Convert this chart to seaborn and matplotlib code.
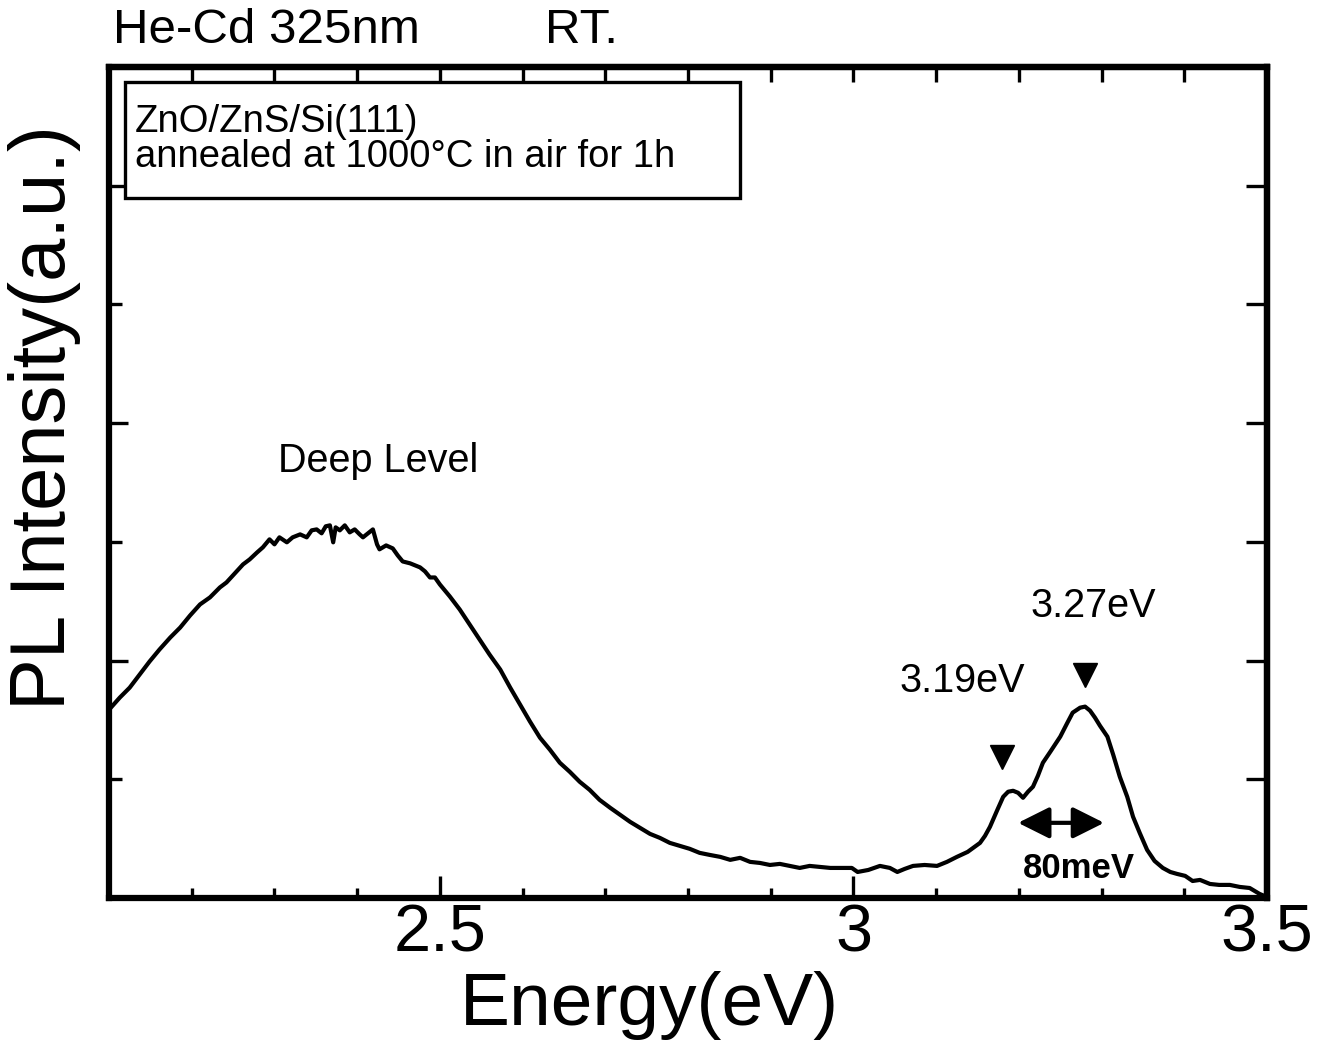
import numpy as np
import pandas as pd
import matplotlib
matplotlib.use("Agg")
import matplotlib.pyplot as plt
from matplotlib.patches import Rectangle
from matplotlib.ticker import FixedLocator, NullFormatter
import seaborn as sns

# ---------------- data ----------------
energy_ev = [
    2.100, 2.113, 2.125, 2.137, 2.149, 2.161, 2.174, 2.186, 2.198, 2.210,
    2.222, 2.234, 2.242, 2.252, 2.262, 2.270, 2.279, 2.286, 2.294, 2.300,
    2.306, 2.315, 2.322, 2.331, 2.339, 2.345, 2.351, 2.357, 2.362, 2.367,
    2.371, 2.374, 2.379, 2.385, 2.391, 2.397, 2.403, 2.407, 2.413, 2.419,
    2.424, 2.427, 2.435, 2.443, 2.449, 2.455, 2.464, 2.476, 2.482, 2.488,
    2.494, 2.500, 2.512, 2.524, 2.536, 2.548, 2.560, 2.573, 2.585, 2.597,
    2.609, 2.621, 2.633, 2.645, 2.657, 2.669, 2.681, 2.693, 2.706, 2.718,
    2.730, 2.742, 2.754, 2.766, 2.778, 2.790, 2.802, 2.814, 2.826, 2.839,
    2.851, 2.863, 2.875, 2.887, 2.899, 2.911, 2.923, 2.935, 2.947, 2.959,
    2.972, 2.984, 2.998, 3.005, 3.018, 3.032, 3.044, 3.053, 3.062, 3.072,
    3.086, 3.101, 3.113, 3.125, 3.138, 3.153, 3.159, 3.165, 3.174, 3.181,
    3.187, 3.193, 3.199, 3.205, 3.211, 3.217, 3.223, 3.229, 3.238, 3.250,
    3.258, 3.265, 3.274, 3.280, 3.286, 3.292, 3.298, 3.307, 3.314, 3.322,
    3.331, 3.338, 3.346, 3.355, 3.364, 3.374, 3.383, 3.391, 3.401, 3.410,
    3.419, 3.431, 3.442, 3.455, 3.467, 3.479, 3.491, 3.500,
]
pl_intensity = [
    1.586, 1.688, 1.772, 1.882, 1.992, 2.093, 2.194, 2.278, 2.380, 2.473,
    2.532, 2.616, 2.658, 2.734, 2.810, 2.852, 2.911, 2.954, 3.021, 2.979,
    3.038, 2.996, 3.038, 3.063, 3.038, 3.097, 3.105, 3.072, 3.131, 3.139,
    2.996, 3.122, 3.097, 3.139, 3.080, 3.105, 3.063, 3.038, 3.072, 3.105,
    2.979, 2.937, 2.970, 2.945, 2.886, 2.835, 2.819, 2.785, 2.751, 2.700,
    2.700, 2.641, 2.540, 2.430, 2.304, 2.177, 2.051, 1.924, 1.772, 1.629,
    1.485, 1.350, 1.249, 1.139, 1.063, 0.979, 0.911, 0.827, 0.759, 0.700,
    0.641, 0.591, 0.540, 0.506, 0.464, 0.439, 0.414, 0.380, 0.363, 0.346,
    0.321, 0.338, 0.304, 0.295, 0.278, 0.287, 0.270, 0.253, 0.270, 0.262,
    0.253, 0.253, 0.253, 0.219, 0.236, 0.270, 0.253, 0.219, 0.245, 0.270,
    0.278, 0.270, 0.304, 0.346, 0.388, 0.464, 0.523, 0.599, 0.743, 0.852,
    0.895, 0.903, 0.886, 0.844, 0.895, 0.937, 1.030, 1.139, 1.232, 1.359,
    1.468, 1.561, 1.603, 1.612, 1.578, 1.519, 1.451, 1.359, 1.207, 1.021,
    0.852, 0.684, 0.549, 0.405, 0.312, 0.253, 0.219, 0.203, 0.186, 0.143,
    0.152, 0.118, 0.110, 0.110, 0.093, 0.084, 0.034, 0.008,
]

peak_marker_ev = [3.18, 3.28]
peak_marker_int = [1.19, 1.88]
peak_labels = ["3.19eV", "3.27eV"]
peak_label_ev = [3.131, 3.290]
peak_label_int = [1.738, 2.363]

split_arrow_ev = [3.199, 3.303]
split_arrow_int = 0.633
split_label = "80meV"
split_label_pos = (3.272, 0.169)

deep_label = "Deep Level"
deep_label_pos = (2.425, 3.586)

x_major = [2.5, 3.0, 3.5]
x_major_labels = ["2.5", "3", "3.5"]
x_minor = [2.2, 2.3, 2.4, 2.6, 2.7, 2.8, 2.9, 3.1, 3.2, 3.3, 3.4]
x_all = [2.2, 2.3, 2.4, 2.5, 2.6, 2.7, 2.8, 2.9, 3.0, 3.1, 3.2, 3.3, 3.4]
y_major = [2, 4, 6]
y_minor = [1, 3, 5]
y_all = [1, 2, 3, 4, 5, 6]

header_left = "He-Cd 325nm"
header_right = "RT."
sample_lines = ["ZnO/ZnS/Si(111)", "annealed at 1000\u00b0C in air for 1h"]

# ---------------- style ----------------
sns.set_style("ticks")
plt.rcParams["font.family"] = ["Liberation Sans", "DejaVu Sans"]
plt.rcParams["axes.linewidth"] = 4.5
plt.rcParams["text.color"] = "black"
plt.rcParams["axes.labelcolor"] = "black"
plt.rcParams["xtick.color"] = "black"
plt.rcParams["ytick.color"] = "black"
plt.rcParams["axes.edgecolor"] = "black"

df = pd.DataFrame({"Energy": energy_ev, "PL": pl_intensity})

fig = plt.figure(figsize=(13.28, 10.41), dpi=100)
ax = fig.add_axes([0.0821, 0.1374, 0.9541 - 0.0821, 0.9356 - 0.1374])

sns.lineplot(data=df, x="Energy", y="PL", sort=False, color="black",
             linewidth=3.0, ax=ax, legend=False)

ax.set_xlim(2.1, 3.5)
ax.set_ylim(0, 7)

for s in ax.spines.values():
    s.set_visible(True)
    s.set_linewidth(4.5)
    s.set_color("black")

ax.set_xticks(x_major)
ax.set_xticklabels(x_major_labels, fontsize=48, color="black")
ax.xaxis.set_minor_locator(FixedLocator(x_minor))
ax.set_yticks(y_major)
ax.set_yticklabels([])
ax.yaxis.set_minor_locator(FixedLocator(y_minor))
ax.yaxis.set_minor_formatter(NullFormatter())

ax.tick_params(axis="x", which="major", direction="in", length=16, width=2.4,
               pad=4, top=False, colors="black")
ax.tick_params(axis="x", which="minor", direction="in", length=7, width=2.4,
               top=False)
ax.tick_params(axis="y", which="major", direction="in", length=14, width=2.4,
               right=False)
ax.tick_params(axis="y", which="minor", direction="in", length=9, width=2.4,
               right=False)

# top and right ticks (uniform length)
sec_top = ax.secondary_xaxis("top")
sec_top.set_xticks(x_all)
sec_top.set_xticklabels([])
sec_top.tick_params(direction="in", length=11, width=2.4)
sec_top.spines["top"].set_linewidth(4.5)

sec_right = ax.secondary_yaxis("right")
sec_right.set_yticks(y_all)
sec_right.set_yticklabels([])
sec_right.tick_params(direction="in", length=15, width=2.4)
sec_right.spines["right"].set_linewidth(4.5)

ax.set_xlabel("Energy(eV)", fontsize=54, color="black")
ax.xaxis.set_label_coords(0.467, -0.088)
ax.set_ylabel("PL Intensity(a.u.)", fontsize=56, color="black")
ax.yaxis.set_label_coords(-0.024, 0.578)

# sample box
ax.add_patch(Rectangle((0.0138, 0.8424), 0.531, 0.1396, transform=ax.transAxes,
                       facecolor="white", edgecolor="black", linewidth=2.4,
                       zorder=5))
ax.text(0.0225, 0.9218, sample_lines[0], transform=ax.transAxes, fontsize=27.5,
        va="baseline", ha="left", zorder=6, color="black")
ax.text(0.0225, 0.8797, sample_lines[1], transform=ax.transAxes, fontsize=27.5,
        va="baseline", ha="left", zorder=6, color="black")

# header texts
fig.text(113 / 1328, 1 - 43 / 1041, header_left, fontsize=35.5, va="baseline",
         ha="left", color="black")
fig.text(545 / 1328, 1 - 43 / 1041, header_right, fontsize=35.5, va="baseline",
         ha="left", color="black")

# annotations
ax.text(deep_label_pos[0], deep_label_pos[1], deep_label, fontsize=28.5,
        ha="center", va="baseline", color="black")
ax.plot(peak_marker_ev, peak_marker_int, linestyle="none", marker="v",
        markersize=17, color="black")
for e, i, lab in zip(peak_label_ev, peak_label_int, peak_labels):
    ax.text(e, i, lab, fontsize=28.5, ha="center", va="baseline", color="black")
ax.annotate("", xy=(split_arrow_ev[1], split_arrow_int),
            xytext=(split_arrow_ev[0], split_arrow_int),
            arrowprops=dict(arrowstyle="<|-|>,head_length=0.4,head_width=0.2",
                            mutation_scale=48, lw=3, color="black",
                            shrinkA=0, shrinkB=0))
ax.text(split_label_pos[0], split_label_pos[1], split_label, fontsize=25,
        fontweight="bold", ha="center", va="baseline", color="black")

fig.savefig("out.png", dpi=100)
